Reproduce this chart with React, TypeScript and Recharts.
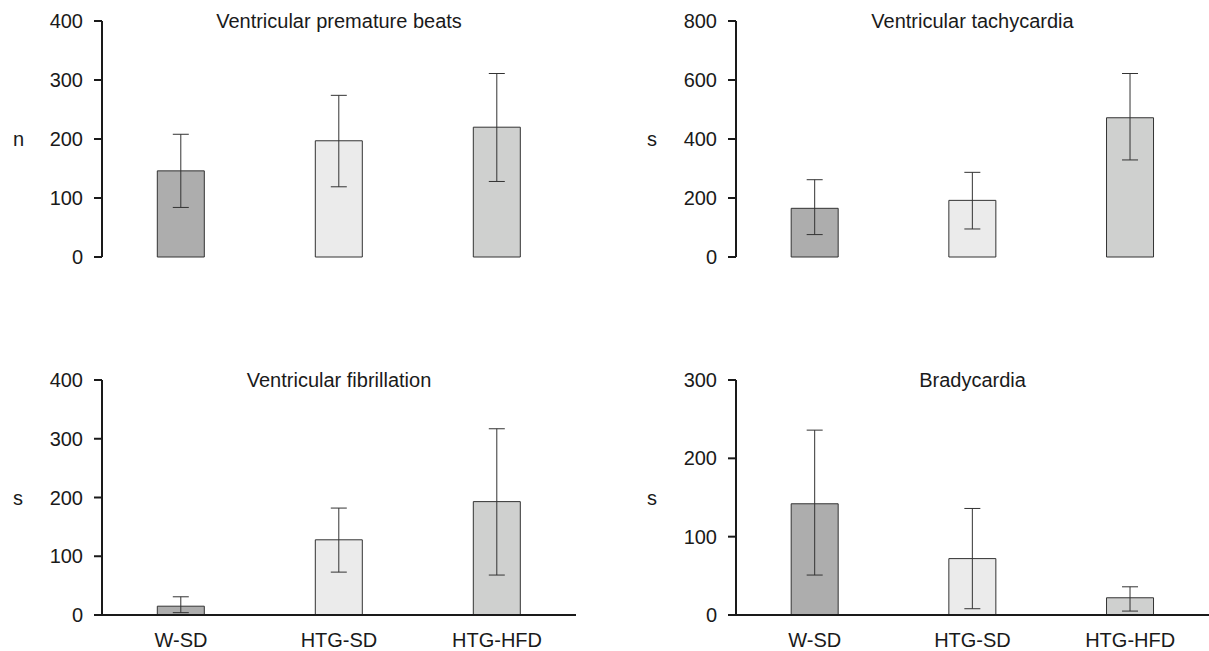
import React from 'react';
import { BarChart, Bar, XAxis, YAxis, ErrorBar, Cell } from 'recharts';

const categories = ['W-SD', 'HTG-SD', 'HTG-HFD'];
const barColors = ['#adadad', '#ebebeb', '#cfd0cf'];

const vpbMean = [146, 197, 220];
const vpbLow = [84, 119, 128];
const vpbHigh = [208, 274, 311];

const vtMean = [165, 192, 472];
const vtLow = [76, 95, 329];
const vtHigh = [262, 287, 622];

const vfMean = [15, 128, 193];
const vfLow = [4, 73, 68];
const vfHigh = [31, 182, 317];

const bradyMean = [142, 72, 22];
const bradyLow = [51, 8, 5];
const bradyHigh = [236, 136, 36];

const ticks400 = [0, 100, 200, 300, 400];
const ticks800 = [0, 200, 400, 600, 800];
const ticks300 = [0, 100, 200, 300];

const FONT = '"Liberation Sans", Arial, sans-serif';
const INK = '#1a1a1a';
const FS = 20;

function rows(mean: number[], low: number[], high: number[]) {
  return categories.map((name, i) => ({
    name,
    value: mean[i],
    err: [mean[i] - low[i], high[i] - mean[i]],
  }));
}

type PanelProps = {
  left: number;
  top: number;
  width: number;
  height: number;
  marginRight: number;
  marginTop: number;
  marginBottom: number;
  xAxisHeight: number;
  showCategories: boolean;
  title: string;
  unit: string;
  data: { name: string; value: number; err: number[] }[];
  max: number;
  ticks: number[];
};

function Panel(p: PanelProps) {
  const plotLeft = 102;
  const plotRight = p.width - p.marginRight;
  return (
    <div style={{ position: 'absolute', left: p.left, top: p.top, width: p.width, height: p.height }}>
      <BarChart
        width={p.width}
        height={p.height}
        data={p.data}
        margin={{ top: p.marginTop, right: p.marginRight, left: 0, bottom: p.marginBottom }}
        barCategoryGap="35%"
      >
        <XAxis
          dataKey="name"
          height={p.xAxisHeight}
          axisLine={{ stroke: INK, strokeWidth: 2 }}
          tickLine={false}
          tick={p.showCategories ? { fill: INK, fontSize: FS, fontFamily: FONT } : false}
          tickSize={8}
          tickMargin={10}
        />
        <YAxis
          width={plotLeft}
          domain={[0, p.max]}
          ticks={p.ticks}
          interval={0}
          axisLine={{ stroke: INK, strokeWidth: 2 }}
          tickLine={{ stroke: INK, strokeWidth: 2 }}
          tickSize={8}
          tickMargin={11}
          tick={{ fill: INK, fontSize: FS, fontFamily: FONT }}
          label={{ value: p.unit, position: 'insideLeft', offset: 13, fill: INK, fontSize: FS, fontFamily: FONT }}
        />
        <Bar dataKey="value" stroke="#333" strokeWidth={1} isAnimationActive={false}>
          {p.data.map((d, i) => (
            <Cell key={d.name} fill={barColors[i]} />
          ))}
          <ErrorBar dataKey="err" direction="y" width={8} stroke="#333" strokeWidth={1} isAnimationActive={false} />
        </Bar>
      </BarChart>
      <div
        style={{
          position: 'absolute',
          left: plotLeft,
          width: plotRight - plotLeft,
          top: p.marginTop - 11,
          textAlign: 'center',
          fontFamily: FONT,
          fontSize: FS,
          lineHeight: '22px',
          color: INK,
        }}
      >
        {p.title}
      </div>
    </div>
  );
}

export default function App() {
  return (
    <div style={{ position: 'absolute', left: 0, top: 0, width: 1209, height: 651, overflow: 'hidden', background: '#fff' }}>
      <Panel left={0} top={0} width={600} height={290} marginRight={24} marginTop={21} marginBottom={33} xAxisHeight={0}
        showCategories={false} title="Ventricular premature beats" unit="n" data={rows(vpbMean, vpbLow, vpbHigh)} max={400} ticks={ticks400} />
      <Panel left={634} top={0} width={575} height={290} marginRight={0} marginTop={21} marginBottom={33} xAxisHeight={0}
        showCategories={false} title="Ventricular tachycardia" unit="s" data={rows(vtMean, vtLow, vtHigh)} max={800} ticks={ticks800} />
      <Panel left={0} top={360} width={600} height={291} marginRight={24} marginTop={20} marginBottom={0} xAxisHeight={36}
        showCategories={true} title="Ventricular fibrillation" unit="s" data={rows(vfMean, vfLow, vfHigh)} max={400} ticks={ticks400} />
      <Panel left={634} top={360} width={575} height={291} marginRight={0} marginTop={20} marginBottom={0} xAxisHeight={36}
        showCategories={true} title="Bradycardia" unit="s" data={rows(bradyMean, bradyLow, bradyHigh)} max={300} ticks={ticks300} />
    </div>
  );
}
